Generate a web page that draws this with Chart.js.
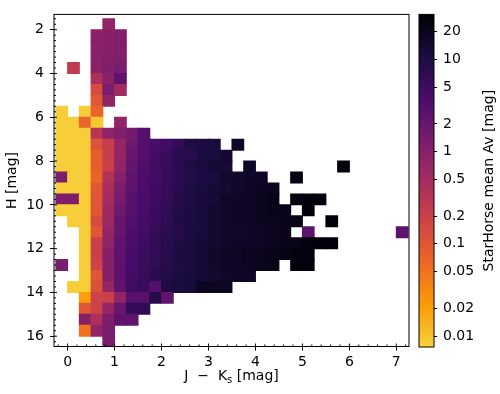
<!DOCTYPE html>
<html>
<head>
<meta charset="utf-8">
<script src="https://cdn.jsdelivr.net/npm/chart.js@4.4.1/dist/chart.umd.min.js"></script>
<style>
body{margin:0;background:#fff}
#box{position:relative;width:500px;height:394px;background:#fff}
#box canvas{position:absolute;left:0;top:0}
</style>
</head>
<body>
<div id="box">
<canvas id="mapa" width="500" height="394"></canvas>
<canvas id="barra" width="500" height="394"></canvas>
</div>
<script>
const _=null

// lower edge of each bin
const jkBins=[-0.25,0,0.25,0.5,0.75,1,1.25,1.5,1.75,2,2.25,2.5,2.75,3,3.25,3.5,3.75,4,4.25,4.5,4.75,5,5.25,5.5,5.75,6,6.25,6.5,6.75,7]
const hBins=[1.5,2,2.5,3,3.5,4,4.5,5,5.5,6,6.5,7,7.5,8,8.5,9,9.5,10,10.5,11,11.5,12,12.5,13,13.5,14,14.5,15,15.5,16]
const jkStep=0.25
const hStep=0.5

// mean Av per cell, one row per H bin, one entry per J-Ks bin
const avRows=[
[_,_,_,_,0.75],
[_,_,_,0.9,1.0,1.1],
[_,_,_,0.9,1.0,1.1],
[_,_,_,0.9,1.0,1.1],
[_,0.25,_,0.9,1.1,1.3],
[_,_,_,0.4,0.9,2.4],
[_,_,_,0.14,1.3,0.5],
[_,_,_,0.1,0.75],
[0.008,_,0.008,0.07],
[0.008,0.008,0.07,0.009,_,0.75],
[0.008,0.008,0.008,0.3,0.8,1.1,1.5,3],
[0.008,0.008,0.008,0.11,0.22,0.7,1.7,3,4,4.8,6.5,10,10.5,11,_,17],
[0.008,0.008,0.008,0.08,0.22,0.7,2,3.2,4.3,5.5,8,8,11,11,14],
[0.008,0.008,0.008,0.08,0.2,0.75,2.1,3.4,4.5,5.5,7.5,10,11,13,13,_,17,_,_,_,_,_,_,_,28],
[1.3,0.008,0.008,0.07,0.35,1.0,2.4,3.6,4.5,6,7.5,9,10.5,11,15,16,17,18,_,_,25],
[0.008,0.008,0.008,0.1,0.42,1.3,2.4,3.6,4.8,6,8,10,11,13,14,16,17,19,20],
[1.2,1.2,0.008,0.1,0.48,1.5,2.9,4,4.8,6,8.5,10,12,13,17,17,18,19,21,_,26,27,27],
[0.008,0.008,0.008,0.1,0.55,1.7,2.9,4,5.5,6.5,9,10.5,12,14,16,17,18,19,21,22,_,28],
[_,0.008,0.008,0.14,0.6,2,3.2,4.5,5.5,7,9.5,10.5,12,14,16,17,18,19,20,22,23,_,_,28],
[_,_,0.008,0.1,0.7,2.1,3.6,4.5,6,7.5,9,11,12,14,16,16,17,18,20,22,_,2.5,_,_,_,_,_,_,_,2.5],
[_,_,0.008,0.2,0.8,2.4,3.6,4.8,6.5,8,10,11,13,14,16,17,17,18,20,22,23,26,28,28],
[_,_,0.008,0.2,1.0,2.4,4,5.5,6.5,8.5,10.5,11,13,16,18,18,19,20,21,23,25,26],
[1.3,_,0.008,0.18,1.0,2.6,4,5.5,7,8.5,10.5,11,13,16,18,18,19,20,22,_,26,27],
[_,_,0.008,0.1,1.0,2.6,4.5,5.8,7.5,9,11,12,13,14,16,17,18],
[_,0.008,0.008,0.12,0.7,2.4,4.8,5.5,3.2,10,11,13,19,19,19],
[_,_,0.02,0.18,0.2,0.8,2.9,2.9,8.5,2.4],
[_,_,0.1,0.18,0.7,2,6.5,6.5],
[_,_,1.0,0.4,1.2,2.4,2.4],
[_,_,0.05,0.75,1.3],
[_,_,_,_,1.3]
]

const jkTicks=[0,1,2,3,4,5,6,7]
const hTicks=[2,4,6,8,10,12,14,16]
const avTicks=[0.01,0.02,0.05,0.1,0.2,0.5,1,2,5,10,20]
const avMin=0.0076
const avMax=30.8

// inferno, dark end first (last yellow stop is not used)
const inferno=[[0,0,4],[27,12,65],[74,12,107],[120,28,109],[165,44,96],[207,68,70],[237,105,37],[251,155,6],[247,209,61]]

function cor(v){
let t=(Math.log10(v)-Math.log10(avMin))/(Math.log10(avMax)-Math.log10(avMin))
t=Math.min(1,Math.max(0,t))
let s=8*(1-t)
let i=Math.min(7,Math.floor(s)),f=s-i
let a=inferno[i],b=inferno[i+1]
return 'rgb('+a.map((x,k)=>Math.round(x+(b[k]-x)*f)).join(',')+')'
}

let celulas=[]
avRows.forEach((row,r)=>{
row.forEach((v,c)=>{
if(v==null)return
celulas.push({x:jkBins[c]+jkStep/2,y:[hBins[r],hBins[r]+hStep],v:v})
})
})

const fonte={family:'DejaVu Sans',size:14}

const moldura={
id:'moldura',
afterDraw(chart){
let ctx=chart.ctx,a=chart.chartArea,x=chart.scales.x,y=chart.scales.y
ctx.save()
ctx.strokeStyle='#000'
ctx.lineWidth=1
ctx.strokeRect(a.left,a.top,a.right-a.left,a.bottom-a.top)
ctx.beginPath()
for(let i=-1;i<=36;i++){
let px=x.getPixelForValue(i*0.2)
if(px<a.left||px>a.right)continue
let len=i%5==0?3:2
ctx.moveTo(px,a.bottom);ctx.lineTo(px,a.bottom-len)
}
for(let i=6;i<=65;i++){
let py=y.getPixelForValue(i*0.25)
if(py<a.top||py>a.bottom)continue
let len=i%8==0?3:2
ctx.moveTo(a.left,py);ctx.lineTo(a.left+len,py)
}
ctx.stroke()
ctx.fillStyle='#000'
ctx.font='14px "DejaVu Sans"'
let p1='J  \u2212  K',p3=' [mag]'
let w1=ctx.measureText(p1).width,w3=ctx.measureText(p3).width
ctx.font='10px "DejaVu Sans"'
let w2=ctx.measureText('s').width
let x0=(a.left+a.right)/2-(w1+w2+w3)/2
ctx.textBaseline='alphabetic'
ctx.textAlign='left'
ctx.font='14px "DejaVu Sans"'
ctx.fillText(p1,x0,380)
ctx.font='10px "DejaVu Sans"'
ctx.fillText('s',x0+w1,383)
ctx.font='14px "DejaVu Sans"'
ctx.fillText(p3,x0+w1+w2,380)
ctx.translate(12,(a.top+a.bottom)/2)
ctx.rotate(-Math.PI/2)
ctx.textAlign='center'
ctx.textBaseline='middle'
ctx.fillText('H [mag]',0,0)
ctx.restore()
}
}

new Chart(document.getElementById('mapa'),{
type:'bar',
data:{datasets:[{
data:celulas,
backgroundColor:c=>c.raw?cor(c.raw.v):'rgba(0,0,0,0)',
borderWidth:0,
inflateAmount:0.5,
barPercentage:1,
categoryPercentage:1
}]},
options:{
responsive:false,
animation:false,
layout:{padding:{left:0,right:91,top:8.5,bottom:0}},
plugins:{legend:{display:false},tooltip:{enabled:false}},
scales:{
x:{
type:'linear',min:-0.29,max:7.27,offset:false,
grid:{drawOnChartArea:false,offset:false,tickLength:4,color:'#000'},
border:{display:false},
ticks:{color:'#000',font:fonte,padding:3,maxRotation:0},
afterBuildTicks:s=>{s.ticks=jkTicks.map(v=>({value:v}))},
afterFit:s=>{s.height=47.5}
},
y:{
type:'linear',reverse:true,min:1.3,max:16.47,
grid:{drawOnChartArea:false,tickLength:4,color:'#000'},
border:{display:false},
ticks:{color:'#000',font:fonte,padding:6},
afterBuildTicks:s=>{s.ticks=hTicks.map(v=>({value:v}))},
afterFit:s=>{s.width=54}
}
}
},
plugins:[moldura]
})

const bordaBarra={
id:'bordaBarra',
afterDraw(chart){
let ctx=chart.ctx,a=chart.chartArea
ctx.save()
ctx.strokeStyle='#000'
ctx.lineWidth=1
ctx.strokeRect(a.left,a.top,a.right-a.left,a.bottom-a.top)
ctx.fillStyle='#000'
ctx.font='14px "DejaVu Sans"'
ctx.translate(a.right+55,(a.top+a.bottom)/2)
ctx.rotate(-Math.PI/2)
ctx.textAlign='center'
ctx.textBaseline='middle'
ctx.fillText('StarHorse mean Av [mag]',0,0)
ctx.restore()
}
}

function degrade(c){
let chart=c.chart,a=chart.chartArea
if(!a)return '#000'
let g=chart.ctx.createLinearGradient(0,a.bottom,0,a.top)
inferno.forEach((rgb,k)=>{
g.addColorStop(1-k/8,'rgb('+rgb.join(',')+')')
})
return g
}

new Chart(document.getElementById('barra'),{
type:'bar',
data:{labels:['Av'],datasets:[{
data:[[avMin,avMax]],
backgroundColor:degrade,
borderWidth:0,
barPercentage:1,
categoryPercentage:1
}]},
options:{
responsive:false,
animation:false,
layout:{padding:{left:419,right:0,top:9,bottom:47}},
plugins:{legend:{display:false},tooltip:{enabled:false}},
scales:{
x:{display:false},
y:{
type:'logarithmic',position:'right',min:avMin,max:avMax,
grid:{drawOnChartArea:false,tickLength:3,color:'#000'},
border:{display:false},
ticks:{color:'#000',font:fonte,padding:6,callback:v=>String(v)},
afterBuildTicks:s=>{s.ticks=avTicks.map(v=>({value:v}))},
afterFit:s=>{s.width=66}
}
}
},
plugins:[bordaBarra]
})
</script>
</body>
</html>
